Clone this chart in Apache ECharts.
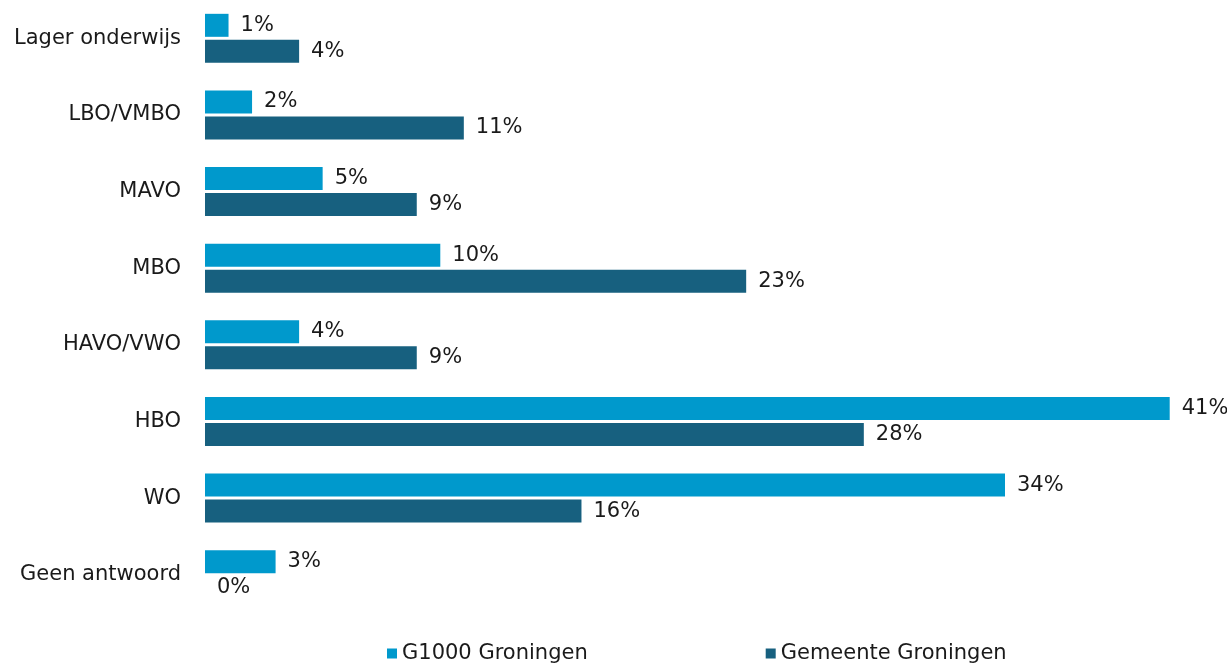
<!DOCTYPE html>
<html>
<head>
<meta charset="utf-8">
<script src="https://cdn.jsdelivr.net/npm/echarts@6/dist/echarts.min.js"></script>
<style>
  html, body { margin: 0; padding: 0; background: #fff; }
  #main { width: 1227px; height: 663px; }
</style>
</head>
<body>
<div id="main"></div>
<script>
  const categories = ["Lager onderwijs", "LBO/VMBO", "MAVO", "MBO", "HAVO/VWO", "HBO", "WO", "Geen antwoord"];
  const g1000 = [1, 2, 5, 10, 4, 41, 34, 3];
  const gemeente = [4, 11, 9, 23, 9, 28, 16, 0];
  const seriesNames = ["G1000 Groningen", "Gemeente Groningen"];

  const colors = ["#0099CC", "#17607F"];
  const font = "DejaVu Sans";

  const chart = echarts.init(document.getElementById("main"));

  const label = {
    show: true,
    position: "right",
    distance: 12,
    formatter: "{c}%",
    color: "#1a1a1a",
    fontFamily: font,
    fontSize: 21,
  };

  const option = {
    animation: false,
    color: colors,
    textStyle: { fontFamily: font },
    grid: { left: 205, right: 22, top: 0, bottom: 50 },
    legend: {
      left: 382,
      top: 638,
      itemWidth: 10,
      itemHeight: 10,
      itemGap: 178,
      icon: "rect",
      textStyle: { fontFamily: font, fontSize: 21, color: "#1a1a1a" },
      data: seriesNames,
    },
    xAxis: {
      type: "value",
      min: 0,
      max: 42.5,
      show: false,
    },
    yAxis: {
      type: "category",
      data: categories,
      inverse: true,
      axisLine: { show: false },
      axisTick: { show: false },
      splitLine: { show: false },
      axisLabel: {
        margin: 24,
        color: "#1a1a1a",
        fontFamily: font,
        fontSize: 21,
      },
    },
    series: [
      {
        name: seriesNames[0],
        type: "bar",
        data: g1000,
        barWidth: 23,
        barGap: "13%",
        label: label,
      },
      {
        name: seriesNames[1],
        type: "bar",
        data: gemeente,
        barWidth: 23,
        barGap: "13%",
        label: label,
      },
    ],
  };

  chart.setOption(option);
</script>
</body>
</html>
